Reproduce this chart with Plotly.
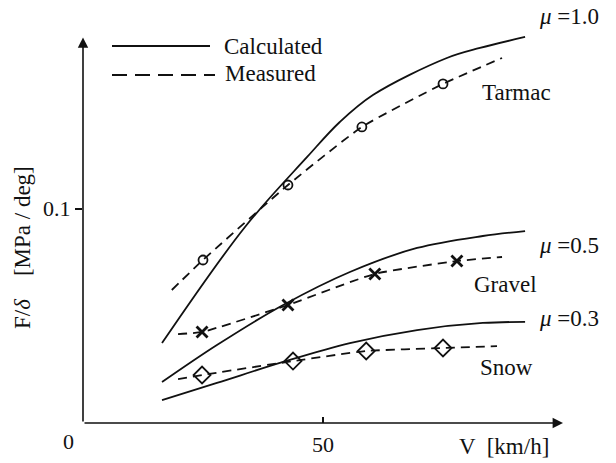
import plotly.graph_objects as go

# ---- data ----
tarmac_calc_v = [16.46, 33.75, 46.7, 53.5, 60.4, 75.8, 82.7, 92.1]
tarmac_calc = [0.0373, 0.0915, 0.1242, 0.1405, 0.1531, 0.1704, 0.1751, 0.1802]

gravel_calc_v = [16.46, 27.9, 41.7, 55.6, 69.6, 83.3, 92.1]
gravel_calc = [0.0191, 0.0364, 0.0551, 0.0705, 0.0817, 0.0873, 0.0896]

snow_calc_v = [16.46, 27.9, 41.7, 55.6, 69.6, 83.3, 92.1]
snow_calc = [0.0107, 0.0187, 0.0285, 0.0373, 0.0434, 0.0467, 0.0472]

tarmac_meas_v = [18.5, 25.0, 42.7, 58.1, 75.0, 87.3]
tarmac_meas = [0.0621, 0.0761, 0.1111, 0.1382, 0.1583, 0.1704]
gravel_meas_v = [19.8, 24.8, 42.7, 60.8, 77.9, 87.3]
gravel_meas = [0.0415, 0.0425, 0.0551, 0.0696, 0.0756, 0.0775]
snow_meas_v = [19.8, 24.8, 43.75, 59.0, 75.0, 86.25]
snow_meas = [0.0205, 0.0224, 0.0289, 0.0336, 0.0350, 0.0359]
# measured points that carry a marker (first and last are only line ends)
marker_idx = [1, 2, 3, 4]

x_ticks = [50]
y_ticks = [0.1]
y_tick_text = ["0.1"]

FONT = "Liberation Serif"
BLACK = "#111111"

fig = go.Figure()

for v, f in [(tarmac_calc_v, tarmac_calc), (gravel_calc_v, gravel_calc), (snow_calc_v, snow_calc)]:
    fig.add_trace(go.Scatter(x=v, y=f, mode="lines",
                             line=dict(color=BLACK, width=1.8, shape="spline", smoothing=1.0),
                             showlegend=False, hoverinfo="skip"))

meas = [
    (tarmac_meas_v, tarmac_meas, dict(symbol="circle-open", size=9, line=dict(width=1.8))),
    (gravel_meas_v, gravel_meas, dict(symbol="x-thin-open", size=11, line=dict(width=2.8))),
    (snow_meas_v, snow_meas, dict(symbol="diamond-open", size=13, line=dict(width=1.8))),
]
for v, f, mk in meas:
    fig.add_trace(go.Scatter(x=v, y=f, mode="lines",
                             line=dict(color=BLACK, width=1.8, dash="9px,6px", shape="spline", smoothing=0.5),
                             showlegend=False, hoverinfo="skip"))
    fig.add_trace(go.Scatter(x=[v[i] for i in marker_idx], y=[f[i] for i in marker_idx], mode="markers",
                             marker=dict(color=BLACK, **mk), showlegend=False, hoverinfo="skip"))

W, H = 616, 463
L, R, T, B = 83, 53, 16, 40
PW, PH = W - L - R, H - T - B


def px(x):
    return (x - L) / PW


def py(y):
    return (H - B - y) / PH


ann = []
# axes arrows
ann.append(dict(x=100, y=0, ax=0, ay=0, xref="x", yref="y", axref="x", ayref="y", showarrow=True,
                arrowhead=2, arrowsize=1.3, arrowwidth=1.6, arrowcolor=BLACK, text=""))
ann.append(dict(x=0, y=0.18, ax=0, ay=0, xref="x", yref="y", axref="x", ayref="y", showarrow=True,
                arrowhead=2, arrowsize=1.3, arrowwidth=1.6, arrowcolor=BLACK, text=""))


def txt(x, y, s, xanchor="left", size=23):
    ann.append(dict(x=px(x), y=py(y), xref="paper", yref="paper", text=s, showarrow=False, xanchor=xanchor,
                    yanchor="middle", font=dict(family=FONT, size=size, color=BLACK)))


txt(68, 441, "0", xanchor="center", size=22)
txt(504, 446, "V  [km/h]", xanchor="center", size=23)
ann.append(dict(x=px(22), y=py(248), xref="paper", yref="paper", text="F/<i>δ</i>    [MPa / deg]",
                showarrow=False, textangle=-90, xanchor="center", yanchor="middle",
                font=dict(family=FONT, size=23, color=BLACK)))

txt(537, 17, "<i>μ</i> =1.0")
txt(537, 245, "<i>μ</i> =0.5")
txt(537, 318, "<i>μ</i> =0.3")
txt(480, 93, "Tarmac")
txt(472, 284, "Gravel")
txt(478, 367, "Snow")
txt(222, 46, "Calculated")
txt(223, 74, "Measured")

shapes = [
    dict(type="line", xref="paper", yref="paper", x0=px(112), x1=px(210), y0=py(46), y1=py(46),
         line=dict(color=BLACK, width=1.8)),
    dict(type="line", xref="paper", yref="paper", x0=px(112), x1=px(215), y0=py(75), y1=py(75),
         line=dict(color=BLACK, width=1.8, dash="15px,8px")),
]

fig.update_layout(
    width=W, height=H, margin=dict(l=L, r=R, t=T, b=B, autoexpand=False),
    paper_bgcolor="white", plot_bgcolor="white",
    annotations=ann, shapes=shapes,
    font=dict(family=FONT, size=22, color=BLACK),
    xaxis=dict(range=[0, 100], showgrid=False, zeroline=False, showline=False, automargin=False,
               tickvals=x_ticks, ticks="inside", ticklen=6, tickwidth=1.5, tickcolor=BLACK,
               ticklabelstandoff=6, tickfont=dict(family=FONT, size=22, color=BLACK)),
    yaxis=dict(range=[0, 0.19], showgrid=False, zeroline=False, showline=False, automargin=False,
               tickvals=y_ticks, ticktext=y_tick_text, ticks="outside", ticklen=7, tickwidth=1.5,
               tickcolor=BLACK, tickfont=dict(family=FONT, size=22, color=BLACK)),
)

fig.write_html("out.html")
